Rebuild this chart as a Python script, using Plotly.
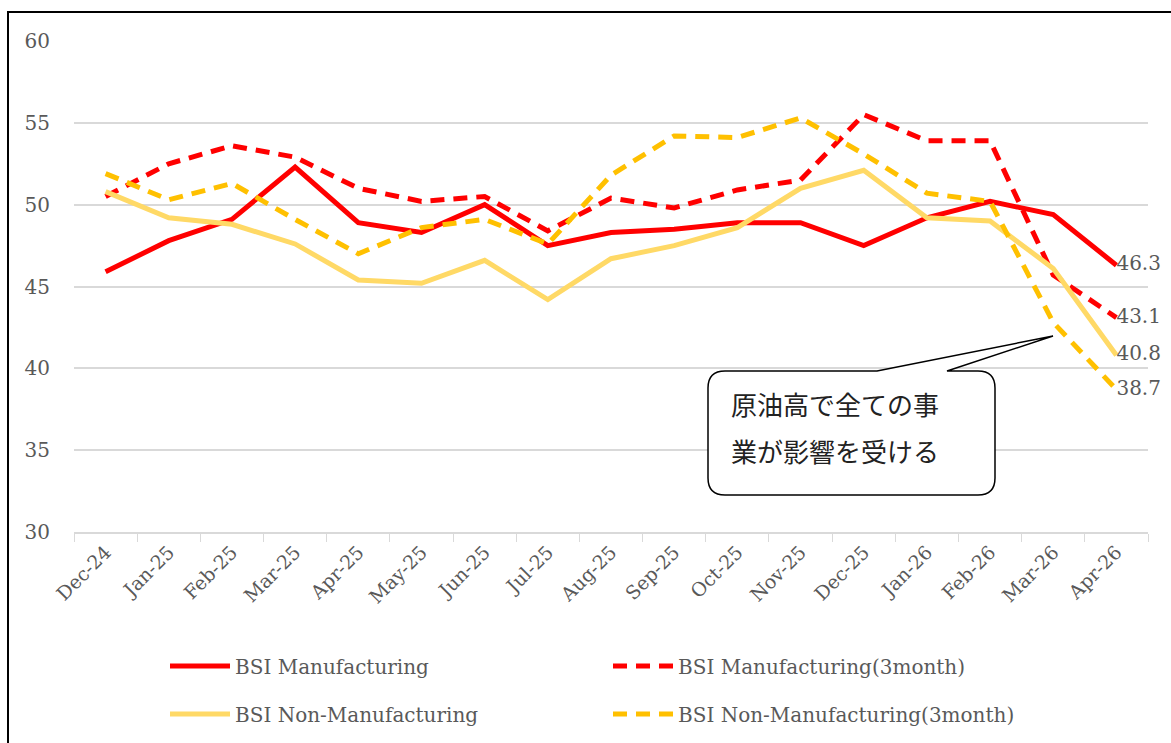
import plotly.graph_objects as go

months = ["Dec-24", "Jan-25", "Feb-25", "Mar-25", "Apr-25", "May-25", "Jun-25", "Jul-25",
          "Aug-25", "Sep-25", "Oct-25", "Nov-25", "Dec-25", "Jan-26", "Feb-26", "Mar-26", "Apr-26"]

bsi_mfg = [45.9, 47.8, 49.1, 52.3, 48.9, 48.3, 50.0, 47.5, 48.3, 48.5, 48.9, 48.9, 47.5, 49.2, 50.2, 49.4, 46.3]
bsi_mfg_3m = [50.5, 52.5, 53.6, 52.9, 51.0, 50.2, 50.5, 48.4, 50.4, 49.8, 50.9, 51.5, 55.5, 53.9, 53.9, 45.7, 43.1]
bsi_non = [50.8, 49.2, 48.8, 47.6, 45.4, 45.2, 46.6, 44.2, 46.7, 47.5, 48.6, 51.0, 52.1, 49.2, 49.0, 46.1, 40.8]
bsi_non_3m = [51.9, 50.3, 51.3, 49.1, 47.0, 48.6, 49.1, 47.6, 51.8, 54.2, 54.1, 55.3, 53.1, 50.7, 50.2, 42.8, 38.7]

callout_lines = ["原油高で全ての事", "業が影響を受ける"]

W, H = 1171, 743
L, R, T, B = 74, 23, 41, 211
FONT = "DejaVu Serif, Noto Sans CJK JP"
GREY = "#595959"


def px(x):
    return (x - L) / (W - L - R)


def py(y):
    return (H - B - y) / (H - B - T)


series = [
    ("BSI Manufacturing", bsi_mfg, "#FF0000", "solid", "legend"),
    ("BSI Manufacturing(3month)", bsi_mfg_3m, "#FF0000", "14px,9px", "legend"),
    ("BSI Non-Manufacturing", bsi_non, "#FFD966", "solid", "legend2"),
    ("BSI Non-Manufacturing(3month)", bsi_non_3m, "#FFC000", "14px,9px", "legend2"),
]

fig = go.Figure()
for name, vals, color, dash, leg in series:
    labels = [""] * (len(vals) - 1) + [f"{vals[-1]:.1f}"]
    fig.add_trace(go.Scatter(
        x=months, y=vals, name=name, mode="lines+text",
        line=dict(color=color, width=5, dash=dash),
        text=labels, textposition="middle right",
        textfont=dict(size=20, color=GREY, family=FONT),
        cliponaxis=False, legend=leg,
    ))

# speech bubble (pixel outline -> paper coords)
x0, x1, y0, y1, r = 708, 995, 371, 495, 17
pts = [
    ("M", (x0 + r, y0)), ("L", (877, y0)), ("L", (1053, 336)), ("L", (947, y0)),
    ("L", (x1 - r, y0)), ("Q", (x1, y0), (x1, y0 + r)), ("L", (x1, y1 - r)),
    ("Q", (x1, y1), (x1 - r, y1)), ("L", (x0 + r, y1)), ("Q", (x0, y1), (x0, y1 - r)),
    ("L", (x0, y0 + r)), ("Q", (x0, y0), (x0 + r, y0)),
]
path = ""
for p in pts:
    path += p[0] + " ".join(f"{px(a):.5f},{py(b):.5f}" for a, b in p[1:]) + " "
path += "Z"

fig.add_shape(type="path", path=path, xref="paper", yref="paper",
              line=dict(color="black", width=1.5), fillcolor="white", layer="above")
for i, txt in enumerate(callout_lines):
    fig.add_annotation(text=txt, xref="paper", yref="paper", x=px(729), y=py(406 + 47 * i),
                       xanchor="left", yanchor="middle", showarrow=False,
                       font=dict(size=26, color="#222222", family=FONT))

# outer frame
fig.add_shape(type="rect", xref="paper", yref="paper",
              x0=px(8), x1=px(1185), y0=py(760), y1=py(12),
              line=dict(color="black", width=2), layer="below")

fig.update_layout(
    width=W, height=H,
    margin=dict(l=L, r=R, t=T, b=B, autoexpand=False),
    plot_bgcolor="white", paper_bgcolor="white",
    font=dict(family=FONT, color=GREY, size=18),
    xaxis=dict(
        type="category", range=[-0.5, len(months) - 0.5],
        showgrid=False, showline=True, linecolor="#D9D9D9", linewidth=1.5,
        ticks="outside", tickson="boundaries", ticklen=8, tickcolor="#D9D9D9",
        tickangle=-45, tickfont=dict(size=19, color=GREY), automargin=False,
    ),
    yaxis=dict(
        range=[30, 60], dtick=5, showgrid=True, gridcolor="#D9D9D9", gridwidth=1.5,
        zeroline=False, showline=False, tickfont=dict(size=20, color=GREY),
        ticklabelstandoff=23, automargin=False,
    ),
    legend=dict(orientation="h", x=px(165), y=py(666), xanchor="left", yanchor="middle",
                entrywidth=368, itemwidth=60, font=dict(size=20, color=GREY)),
    legend2=dict(orientation="h", x=px(165), y=py(714), xanchor="left", yanchor="middle",
                 entrywidth=368, itemwidth=60, font=dict(size=20, color=GREY)),
)

fig.write_html("out.html", config={"displayModeBar": False},
               post_script="document.body.style.margin='0';")
